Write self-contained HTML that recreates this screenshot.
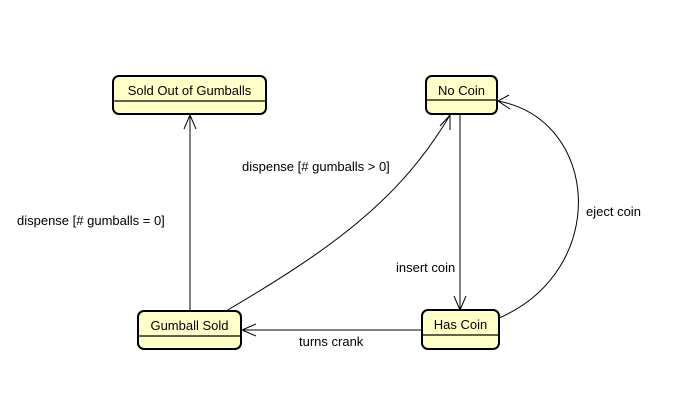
<!DOCTYPE html>
<html><head><style>body{margin:0;background:#fff}</style></head><body>
<svg width="700" height="408" xmlns="http://www.w3.org/2000/svg" font-family="Liberation Sans, sans-serif" font-size="13">
<rect width="700" height="408" fill="#fff"/>
<g fill="#ffffc8" stroke="#000" stroke-width="2">
<rect x="113" y="76" width="153" height="38" rx="6"/>
<rect x="426" y="76" width="71" height="38" rx="6"/>
<rect x="138" y="311" width="103" height="38" rx="6"/>
<rect x="422" y="310" width="77" height="39" rx="6"/>
</g>
<g stroke="#000" stroke-width="1.2">
<line x1="114" y1="101" x2="265" y2="101"/>
<line x1="427" y1="100" x2="496" y2="100"/>
<line x1="139" y1="336" x2="240" y2="336"/>
<line x1="423" y1="335" x2="498" y2="335"/>
</g>
<g fill="#000" text-anchor="middle">
<text x="189.5" y="95">Sold Out of Gumballs</text>
<text x="461.5" y="95">No Coin</text>
<text x="189.5" y="330">Gumball Sold</text>
<text x="460.5" y="329">Has Coin</text>
</g>
<g fill="none" stroke="#000" stroke-width="1">
<line x1="190" y1="311" x2="190" y2="115"/>
<polyline points="184,129 190,115 196,129"/>
<line x1="460" y1="115" x2="460" y2="309"/>
<polyline points="454,296 460,310 466,296"/>
<path d="M226,311 C330,250 400,200 450,115"/>
<polyline points="440,126 450,115 450,130"/>
<line x1="422" y1="330" x2="242" y2="330"/>
<polyline points="256,324 242,330 256,336"/>
<path d="M499,318 C610,270 600,120 498,101"/>
<polyline points="509,95 498,101 510,109"/>
</g>
<g fill="#000">
<text x="17" y="225">dispense [# gumballs = 0]</text>
<text x="242" y="171">dispense [# gumballs &gt; 0]</text>
<text x="396" y="272">insert coin</text>
<text x="586" y="216">eject coin</text>
<text x="299" y="346">turns crank</text>
</g>
</svg>
</body></html>
